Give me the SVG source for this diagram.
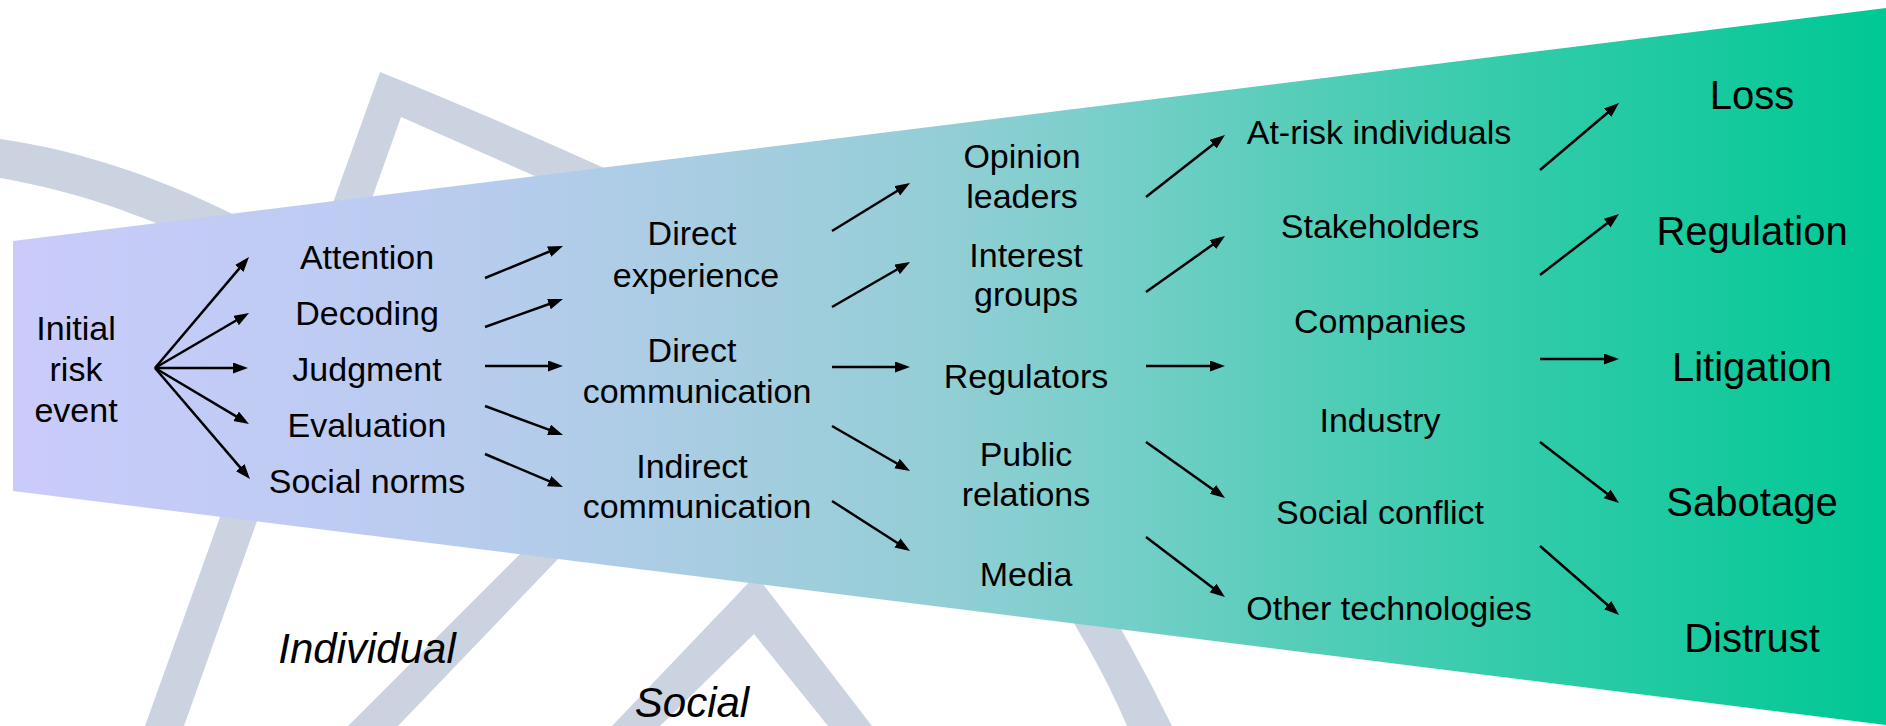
<svg xmlns="http://www.w3.org/2000/svg" width="1886" height="726" viewBox="0 0 1886 726">
<style>
.wm{fill:#CBD3E1;stroke:none}
.t{font-family:"Liberation Sans",Arial,sans-serif;font-size:34px;fill:#000;text-anchor:middle}
.big{font-size:40px}
.it{font-size:42px;font-style:italic}
.c{stroke:#000;stroke-width:2.5;fill:none;marker-end:url(#ah)}
</style>
<defs>
<linearGradient id="fan" gradientUnits="userSpaceOnUse" x1="13" y1="0" x2="1886" y2="0">
<stop offset="0" stop-color="#CACBFB"/>
<stop offset="0.245" stop-color="#B8CCEE"/>
<stop offset="0.37" stop-color="#A8CDE2"/>
<stop offset="0.5" stop-color="#92CED5"/>
<stop offset="0.58" stop-color="#79CFCA"/>
<stop offset="0.69" stop-color="#55CDB9"/>
<stop offset="0.82" stop-color="#2ECBA8"/>
<stop offset="1" stop-color="#00C894"/>
</linearGradient>
<marker id="ah" markerUnits="userSpaceOnUse" markerWidth="16" markerHeight="12" refX="7" refY="5.5" orient="auto">
<path d="M0,0 L15,5.5 L0,11 Z" fill="#000"/>
</marker>
</defs>
<rect width="1886" height="726" fill="#fff"/>
<g id="watermark">
<path class="wm" d="M0,139 C80,150 170,180 260,228 L240,262 C150,215 70,190 0,178 Z"/>
<path class="wm" d="M145,726 L380,72 Q480,112 602,167 L700,213 L680,242 L537,177 L401,117 L184,726 Z"/>
<path class="wm" d="M348,726 L540,534 L582,534 L398,726 Z"/>
<path class="wm" d="M612,726 L756,575 L872,726 L828,726 L754,634 L660,726 Z"/>
<path class="wm" d="M1033,560 L1080,560 Q1130,640 1172,726 L1127,726 Q1095,650 1033,560 Z"/>
</g>
<polygon id="funnel" points="13,241 1886,8 1886,725 13,491" fill="url(#fan)"/>
<g id="connectors">
<line class="c" x1="155" y1="368" x2="243.8" y2="263.1"/>
<line class="c" x1="155" y1="368" x2="242.1" y2="317"/>
<line class="c" x1="155" y1="368" x2="240" y2="368"/>
<line class="c" x1="155" y1="368" x2="242.1" y2="419.9"/>
<line class="c" x1="155" y1="368" x2="244.8" y2="472.9"/>
<line class="c" x1="485" y1="278" x2="555.6" y2="249"/>
<line class="c" x1="485" y1="327" x2="555.5" y2="301.7"/>
<line class="c" x1="485" y1="366" x2="555" y2="366"/>
<line class="c" x1="485" y1="406" x2="555.5" y2="432.2"/>
<line class="c" x1="485" y1="454" x2="555.6" y2="483.9"/>
<line class="c" x1="832" y1="231" x2="903.2" y2="187.2"/>
<line class="c" x1="832" y1="307" x2="903.1" y2="266"/>
<line class="c" x1="832" y1="367" x2="902" y2="367"/>
<line class="c" x1="832" y1="426" x2="903.1" y2="467"/>
<line class="c" x1="832" y1="501" x2="903.3" y2="546.7"/>
<line class="c" x1="1146" y1="197" x2="1218.7" y2="139.9"/>
<line class="c" x1="1146" y1="292" x2="1218.5" y2="240.6"/>
<line class="c" x1="1146" y1="366" x2="1217" y2="366"/>
<line class="c" x1="1146" y1="442" x2="1218.5" y2="493.4"/>
<line class="c" x1="1146" y1="537" x2="1218.6" y2="592.2"/>
<line class="c" x1="1540" y1="170" x2="1612.9" y2="108.2"/>
<line class="c" x1="1540" y1="275" x2="1612.7" y2="218.9"/>
<line class="c" x1="1540" y1="359" x2="1611" y2="359"/>
<line class="c" x1="1540" y1="442" x2="1612.7" y2="498.1"/>
<line class="c" x1="1540" y1="546" x2="1613" y2="609.7"/>
</g>
<g id="initial-risk-event"><text class="t" x="76" y="340">Initial</text><text class="t" x="76" y="381">risk</text><text class="t" x="76" y="422">event</text></g>
<g id="attention"><text class="t" x="367" y="269">Attention</text></g>
<g id="decoding"><text class="t" x="367" y="325">Decoding</text></g>
<g id="judgment"><text class="t" x="367" y="381">Judgment</text></g>
<g id="evaluation"><text class="t" x="367" y="437">Evaluation</text></g>
<g id="social-norms"><text class="t" x="367" y="493">Social norms</text></g>
<g id="direct-experience"><text class="t" x="692" y="245">Direct</text><text class="t" x="696" y="287">experience</text></g>
<g id="direct-communication"><text class="t" x="692" y="362">Direct</text><text class="t" x="697" y="403">communication</text></g>
<g id="indirect-communication"><text class="t" x="692" y="478">Indirect</text><text class="t" x="697" y="518">communication</text></g>
<g id="opinion-leaders"><text class="t" x="1022" y="168">Opinion</text><text class="t" x="1022" y="208">leaders</text></g>
<g id="interest-groups"><text class="t" x="1026" y="267">Interest</text><text class="t" x="1026" y="306">groups</text></g>
<g id="regulators"><text class="t" x="1026" y="388">Regulators</text></g>
<g id="public-relations"><text class="t" x="1026" y="466">Public</text><text class="t" x="1026" y="506">relations</text></g>
<g id="media"><text class="t" x="1026" y="586">Media</text></g>
<g id="at-risk-individuals"><text class="t" x="1379" y="144">At-risk individuals</text></g>
<g id="stakeholders"><text class="t" x="1380" y="238">Stakeholders</text></g>
<g id="companies"><text class="t" x="1380" y="333">Companies</text></g>
<g id="industry"><text class="t" x="1380" y="432">Industry</text></g>
<g id="social-conflict"><text class="t" x="1380" y="524">Social conflict</text></g>
<g id="other-technologies"><text class="t" x="1389" y="620">Other technologies</text></g>
<g id="loss"><text class="t big" x="1752" y="109">Loss</text></g>
<g id="regulation"><text class="t big" x="1752" y="245">Regulation</text></g>
<g id="litigation"><text class="t big" x="1752" y="381">Litigation</text></g>
<g id="sabotage"><text class="t big" x="1752" y="516">Sabotage</text></g>
<g id="distrust"><text class="t big" x="1752" y="652">Distrust</text></g>
<g id="label-individual"><text class="t it" x="367" y="663">Individual</text></g>
<g id="label-social"><text class="t it" x="692" y="717">Social</text></g>
</svg>
